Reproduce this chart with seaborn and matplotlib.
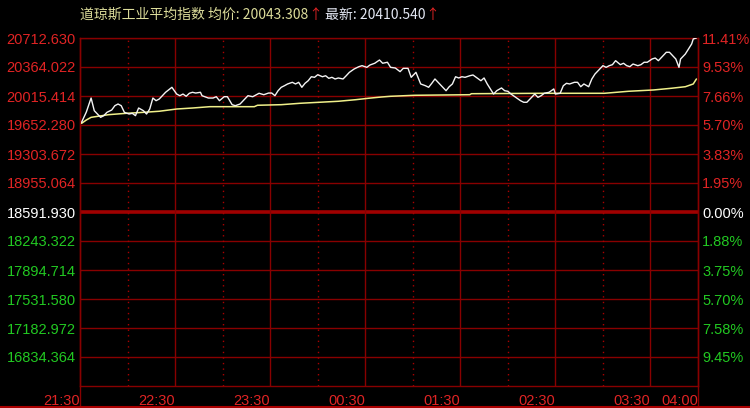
import numpy as np
import pandas as pd
import matplotlib
matplotlib.use('Agg')
import matplotlib.pyplot as plt
import seaborn as sns
from matplotlib.lines import Line2D

# minutes after 21:30, index price
minutes = [1, 4, 7, 9, 11, 13, 15, 17, 20, 22, 24, 26, 28, 31, 33, 35, 37, 40, 42, 44,
           46, 48, 50, 52, 54, 58, 61, 63, 65, 67, 69, 71, 73, 76, 77, 81, 84, 86, 88, 91,
           93, 96, 98, 101, 104, 106, 109, 113, 116, 119, 121, 123, 125, 127, 129, 131, 134, 136, 138, 140,
           142, 144, 146, 148, 150, 153, 155, 157, 159, 161, 163, 166, 168, 170, 173, 176, 178, 181, 183, 186,
           189, 191, 194, 196, 199, 202, 204, 207, 209, 212, 215, 218, 220, 222, 224, 228, 231, 233, 235, 237,
           239, 241, 243, 246, 248, 250, 253, 255, 257, 259, 261, 263, 266, 268, 270, 272, 275, 278, 280, 282,
           284, 287, 289, 291, 293, 296, 299, 300, 303, 305, 307, 309, 312, 314, 316, 318, 321, 323, 325, 327,
           330, 332, 334, 336, 338, 341, 343, 345, 347, 349, 352, 354, 356, 358, 361, 363, 365, 368, 370, 372,
           374, 376, 378, 379, 382, 384, 386, 387, 389]
price = [19699, 19823, 19991, 19839, 19799, 19759, 19779, 19819, 19847, 19899, 19919, 19899, 19819, 19799, 19807, 19779, 19871, 19839, 19799, 19859,
         19991, 19959, 19979, 20019, 20060, 20120, 20039, 20019, 20039, 20012, 20048, 20060, 20051, 20060, 20019, 19991, 19991, 20007, 19959, 20007,
         20007, 19911, 19899, 19919, 19979, 20019, 20007, 20048, 20031, 20051, 20051, 20019, 20079, 20120, 20139, 20160, 20180, 20160, 20180, 20120,
         20168, 20199, 20247, 20240, 20271, 20247, 20259, 20228, 20240, 20220, 20232, 20220, 20259, 20300, 20340, 20368, 20380, 20360, 20388, 20409,
         20448, 20409, 20421, 20360, 20352, 20308, 20348, 20348, 20240, 20300, 20160, 20139, 20120, 20168, 20220, 20139, 20079, 20127, 20160, 20247,
         20232, 20247, 20240, 20259, 20268, 20240, 20199, 20232, 20160, 20100, 20039, 20079, 20112, 20079, 20072, 20039, 19999, 19959, 19940, 19940,
         19979, 20039, 19999, 20019, 20048, 20060, 20100, 20039, 20048, 20139, 20168, 20160, 20180, 20180, 20127, 20160, 20127, 20220, 20280, 20320,
         20380, 20360, 20380, 20392, 20440, 20392, 20409, 20380, 20368, 20400, 20380, 20392, 20421, 20421, 20460, 20472, 20440, 20500, 20541, 20541,
         20500, 20460, 20360, 20460, 20520, 20580, 20641, 20701, 20713]

avg_minutes = [1, 4, 7, 18, 29, 40, 50, 61, 71, 82, 110, 112, 127, 139, 151, 163, 174, 182, 190, 196,
               200, 211, 246, 247, 293, 331, 346, 362, 373, 382, 387, 389]
avg_price = [19687, 19727, 19759, 19791, 19807, 19819, 19832, 19859, 19871, 19887, 19887, 19904, 19911, 19928, 19940, 19952, 19971, 19988, 20003, 20012,
             20015, 20024, 20031, 20043, 20048, 20048, 20072, 20088, 20108, 20127, 20160, 20220]

left_labels = ['20712.630', '20364.022', '20015.414', '19652.280', '19303.672', '18955.064',
               '18591.930', '18243.322', '17894.714', '17531.580', '17182.972', '16834.364']
right_labels = ['11.41%', '9.53%', '7.66%', '5.70%', '3.83%', '1.95%',
                '0.00%', '1.88%', '3.75%', '5.70%', '7.58%', '9.45%']
time_ticks = [0, 60, 120, 180, 240, 300, 360, 390]
time_labels = ['21:30', '22:30', '23:30', '00:30', '01:30', '02:30', '03:30', '04:00']

top_val = 20712.630
step = 348.608
zero_idx = 6  # row of the previous close (0.00%)

RED = '#e02424'
GREEN = '#22c822'
GRID = '#880000'

sns.set_style('dark')
plt.rcParams['font.family'] = ['Liberation Sans', 'Noto Sans CJK SC', 'DejaVu Sans']

fig = plt.figure(figsize=(7.5, 4.08), dpi=100, facecolor='black')
ax = fig.add_axes([80 / 750, 22 / 408, 618 / 750, 348 / 408])
ax.set_facecolor('black')

df = pd.DataFrame({'minute': minutes, 'price': price})
df_avg = pd.DataFrame({'minute': avg_minutes, 'price': avg_price})
sns.lineplot(data=df_avg, x='minute', y='price', ax=ax, color='#f0f08a', linewidth=1.1, zorder=3)
sns.lineplot(data=df, x='minute', y='price', ax=ax, color='#f4f4f4', linewidth=1.0, zorder=3)

grid_vals = [top_val - k * step for k in range(12)]
ax.set_xlim(0, 390)
ax.set_ylim(top_val - 12 * step, top_val)

for i, v in enumerate(grid_vals):
    if i == zero_idx:
        ax.axhline(v, color='#a00000', linewidth=2.6, zorder=2)
    else:
        ax.axhline(v, color=GRID, linewidth=1.0, zorder=2)
for m in range(60, 390, 60):
    ax.axvline(m, color=GRID, linewidth=1.0, zorder=2)
for m in range(30, 390, 60):
    ax.axvline(m, color='#aa0000', linewidth=1.0, linestyle=(0, (1, 3)), zorder=2)

for s in ax.spines.values():
    s.set_color(GRID)
    s.set_linewidth(1.0)
# frame edges run down to the bottom of the picture
ax.axvline(0, ymin=-0.0632, ymax=1, color=GRID, linewidth=1.0, clip_on=False)
ax.axvline(390, ymin=-0.0632, ymax=1, color=GRID, linewidth=1.0, clip_on=False)
fig.add_artist(Line2D([0, 1], [0.003, 0.003], color='#aa0000', linewidth=1.5))


def colour_labels(labels):
    for i, lab in enumerate(labels):
        if i == zero_idx:
            lab.set_color('white')
        elif i < zero_idx:
            lab.set_color(RED)
        else:
            lab.set_color(GREEN)


ax.set_yticks(grid_vals, labels=left_labels)
ax.tick_params(axis='y', length=0, pad=3, labelsize=10.5)
colour_labels(ax.get_yticklabels())

ax2 = ax.twinx()
ax2.set_ylim(ax.get_ylim())
ax2.set_yticks(grid_vals, labels=right_labels)
ax2.tick_params(axis='y', length=0, pad=3, labelsize=10.5)
for s in ax2.spines.values():
    s.set_visible(False)
colour_labels(ax2.get_yticklabels())

ax.set_xticks(time_ticks, labels=time_labels)
ax.tick_params(axis='x', length=5, width=1, color=GRID, pad=1, labelsize=10.5, labelcolor=RED)
for lab in ax.get_xticklabels():
    lab.set_horizontalalignment('right')
ax.set_xlabel('')
ax.set_ylabel('')
ax2.set_ylabel('')
ax.grid(False)
ax2.grid(False)

# title made of coloured pieces
cjk = ['Noto Sans CJK SC', 'DejaVu Sans']
t1 = fig.text(80 / 750, 0.963, '道琼斯工业平均指数 均价: 20043.308', color='#dcdc9a',
              fontsize=10, family=cjk, va='center', ha='left')
t2 = ax.annotate('↑', xy=(1, 0), xycoords=t1, va='bottom', ha='left',
                 color=RED, fontsize=10, family=cjk, annotation_clip=False)
t3 = ax.annotate(' 最新: 20410.540', xy=(1, 0), xycoords=t2, va='bottom', ha='left',
                 color='#e4e8f4', fontsize=10, family=cjk, annotation_clip=False)
t4 = ax.annotate('↑', xy=(1, 0), xycoords=t3, va='bottom', ha='left',
                 color=RED, fontsize=10, family=cjk, annotation_clip=False)

fig.savefig('out.png', dpi=100, facecolor='black')
